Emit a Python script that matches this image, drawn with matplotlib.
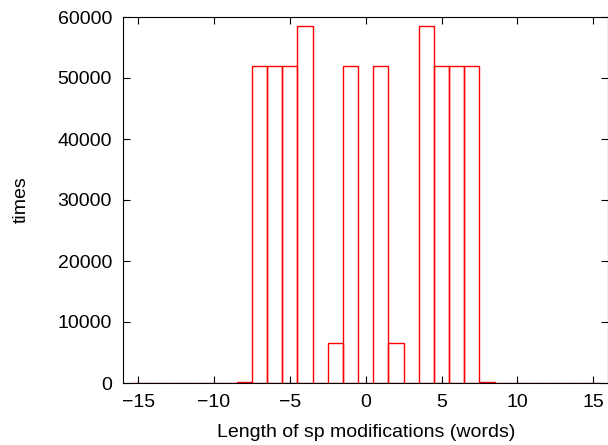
import matplotlib
matplotlib.use("Agg")
import matplotlib.pyplot as plt
import numpy as np

plt.rcParams['font.family'] = ['Liberation Sans', 'DejaVu Sans']
plt.rcParams['font.size'] = 14

# longitud de la modificacion (palabras) y veces que aparece
longitudes = list(range(-15, 16))
veces = [0, 0, 0, 0, 0, 0, 0, 100,
         52000, 52000, 52000, 58500, 0, 6500, 52000, 0,
         52000, 6500, 0, 58500, 52000, 52000, 52000,
         100, 0, 0, 0, 0, 0, 0, 0]

fig = plt.figure(figsize=(6.08, 4.45), dpi=100)
ax = fig.add_axes([123/608, (445-383)/445, (608.4-123)/608, (383-17)/445])

# histograma con barras sin relleno
ax.bar(longitudes, veces, width=1.0, fill=False, edgecolor='#ff0000', linewidth=1.0)

ax.set_xlim(-16, 16)
ax.set_ylim(0, 60000)
ax.set_xticks(np.arange(-15, 16, 5))
ax.set_yticks(np.arange(0, 60001, 10000))
ax.set_xticklabels(['\u221215', '\u221210', '\u22125', '0', '5', '10', '15'])
ax.tick_params(direction='in', top=True, right=True, length=5, width=0.8, pad=8)

ax.set_xlabel("Length of sp modifications (words)", labelpad=9)
ax.set_ylabel("times", labelpad=20)

fig.savefig("out.png", dpi=100)
